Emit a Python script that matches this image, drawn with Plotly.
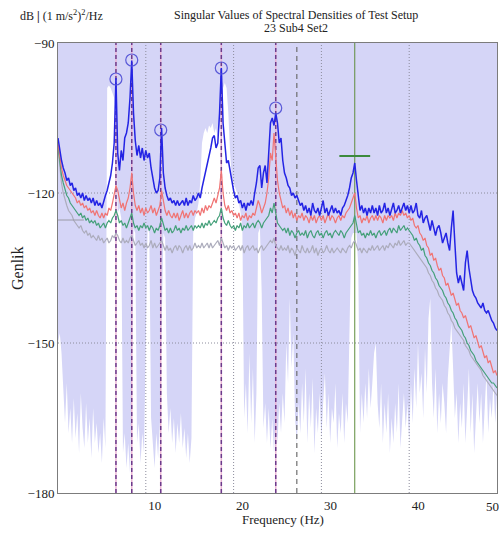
import plotly.graph_objects as go

# ---------------- data ----------------
freq = [round(0.2 * i, 1) for i in range(251)]  # Hz, 0.2 Hz grid

sv1_blue = [
    -109, -111.5, -113.5, -115, -116, -117.5, -117, -118.5, -118, -119.5,
    -119, -120.5, -120, -121, -120, -121.5, -120.5, -121.5, -121, -122,
    -121, -122.5, -121.5, -122.5, -122, -123, -121.5, -120.5, -119.5, -118,
    -116.5, -114, -110, -97, -112, -115.5, -111.5, -113.5, -109, -108,
    -106, -101, -93.5, -104, -109.5, -112.5, -110.5, -113, -111, -113.5,
    -111.5, -113, -112, -115, -117.5, -119, -120, -119.5, -117, -107,
    -116, -119, -120.5, -121.5, -121, -122, -121.5, -122.5, -121.5, -122.5,
    -122, -121.5, -122.5, -121, -122.5, -121.5, -122, -120.5, -121.5, -121,
    -120, -121, -119, -117.5, -116, -114, -113, -111, -109, -108.5,
    -111, -110, -104, -95, -106, -111, -114, -113.5, -116, -117.5,
    -119.5, -121, -120.5, -122, -121.5, -123, -122, -123.5, -122, -122.5,
    -121.5, -122.5, -120, -118, -115, -114.5, -119, -116, -114.5, -118,
    -112, -106, -105, -106.5, -104, -106, -110, -109, -113.5, -116,
    -117, -118.5, -119, -120.5, -120, -121, -120.5, -121.5, -122.5, -122,
    -123.5, -122.5, -124, -123, -124.5, -122, -123.5, -124, -123, -124.5,
    -123, -121.5, -124, -123, -124.5, -123.5, -122.5, -124, -123, -124,
    -123.5, -124.5, -123, -122.5, -121.5, -120.5, -119, -117, -116, -114,
    -117.5, -121, -123.5, -122.5, -124, -123, -124.5, -123, -124, -122.5,
    -124, -123, -124.5, -122.5, -124, -123.5, -122, -124, -123, -124.5,
    -123, -122, -124, -123.5, -122.5, -124, -123, -122, -123.5, -122.5,
    -124, -122.5, -124, -123.5, -122, -124.5, -125, -123.5, -126, -125,
    -124.5, -126, -127.5, -125.5, -127, -128.5, -127, -126.5, -128, -130,
    -129, -128, -130, -131.5, -127, -123.5, -130, -136, -138, -136.5,
    -138, -139.5, -134, -131.5, -135, -137.5, -139.5, -140.5, -141, -142,
    -142.5, -143, -142, -143.5, -144, -143.5, -144.5, -145.5, -146, -147,
    -147.5,
]

sv2_red = [
    -110, -113, -115, -116.5, -117.5, -118.5, -119, -119.5, -120, -120.5,
    -121, -122, -121.5, -122.5, -122, -123, -122.5, -123.5, -123, -124,
    -123.5, -124.5, -123.5, -124.5, -125, -124, -125, -124, -124.5, -123,
    -123.5, -122, -120.5, -118.5, -119.5, -121.5, -123, -122, -123.5, -122,
    -121, -119, -116, -120, -122.5, -123.5, -122.5, -124, -123, -124.5,
    -123, -124, -123.5, -122.5, -124, -123, -124.5, -123.5, -122.5, -119.5,
    -122, -123.5, -124.5, -123.5, -124.5, -125, -124, -125, -124, -125.5,
    -124.5, -123.5, -125, -124, -125, -124, -123.5, -124.5, -123.5, -124,
    -123.5, -124.5, -123, -124, -122.5, -123.5, -122.5, -123, -122, -121,
    -122, -120.5, -119, -115.5, -120, -122.5, -123.5, -122.5, -124, -123.5,
    -124.5, -124, -125, -124, -125.5, -124.5, -125, -124, -125.5, -124.5,
    -125, -124, -124.5, -123, -121.5, -122.5, -124, -123, -122, -120,
    -117, -112, -113.5, -108, -114, -117.5, -120, -121.5, -123, -122.5,
    -124, -123, -124.5, -123.5, -125, -124, -125.5, -124.5, -125, -124,
    -125.5, -124.5, -125, -126, -124.5, -125.5, -124.5, -126, -125, -124.5,
    -125.5, -124.5, -126, -125, -124, -125.5, -124.5, -125, -126, -125,
    -124.5, -125.5, -124.5, -125, -124, -123.5, -123, -122, -121, -120,
    -123, -125, -124.5, -126, -125, -125.5, -124.5, -126, -125, -124.5,
    -125.5, -124.5, -125.5, -124.5, -125, -126, -124.5, -125.5, -124.5, -125,
    -124.5, -125.5, -124, -125, -124, -124.5, -123.5, -124.5, -124, -125,
    -124.5, -125.5, -125, -126.5, -127, -126.5, -128, -128.5, -129.5, -129,
    -130.5, -131, -132.5, -132, -133.5, -133, -134.5, -135.5, -135, -136.5,
    -137, -138.5, -138, -139.5, -140.5, -140, -141.5, -142.5, -142, -143.5,
    -144, -145, -144.5, -146, -147, -146.5, -148, -149, -148.5, -150,
    -151, -150.5, -152, -153, -152.5, -154, -153.5, -155, -156, -155.5,
    -156.5,
]

sv3_green = [
    -110.5, -114, -116.5, -118, -119.5, -120.5, -121, -122, -122.5, -123,
    -123.5, -124, -124.5, -124, -125, -124.5, -125.5, -125, -126, -125.5,
    -126, -125.5, -126.5, -126, -127, -126.5, -126, -127, -126, -125.5,
    -126, -125, -124.5, -123.5, -124.5, -126, -125.5, -126.5, -126, -127,
    -126, -125, -124, -126, -127, -126.5, -127.5, -126.5, -127, -126,
    -127, -126.5, -127.5, -126.5, -127, -128, -127, -127.5, -126.5, -125,
    -126.5, -127.5, -127, -128, -127, -128, -127.5, -126.5, -127.5, -127,
    -128, -127, -127.5, -126.5, -127.5, -127, -126.5, -127.5, -126.5, -127,
    -126.5, -127, -126, -127, -126, -126.5, -125.5, -126.5, -126, -125.5,
    -126, -125, -124.5, -123, -125, -126, -126.5, -125.5, -126.5, -127,
    -126.5, -127.5, -126.5, -127, -126, -127.5, -126.5, -127, -126, -127,
    -126.5, -126, -127, -126, -125.5, -126, -127, -126, -125.5, -125,
    -124.5, -123, -124, -122, -124.5, -126, -126.5, -127, -127.5, -127,
    -128, -127, -128.5, -127.5, -128, -129, -128, -127.5, -128.5, -128,
    -128.5, -127.5, -129, -128, -127.5, -128.5, -129, -128, -127.5, -128.5,
    -128, -129, -128, -127.5, -128.5, -128, -129, -128, -127.5, -128,
    -128.5, -127.5, -128, -129, -128, -127.5, -127, -126.5, -126, -124.5,
    -126.5, -128, -127.5, -128.5, -128, -129, -128, -128.5, -127.5, -128.5,
    -128, -129, -128, -127.5, -128.5, -128, -127.5, -128.5, -127.5, -127,
    -128, -127, -127.5, -128, -126.5, -127.5, -127, -126.5, -127.5, -127,
    -127.5, -128, -128.5, -129.5, -129, -130, -130.5, -131.5, -131, -132.5,
    -133, -134, -134.5, -135.5, -136, -137, -137.5, -138.5, -139, -139.5,
    -140.5, -141, -142, -142.5, -143.5, -144, -145, -145.5, -146.5, -147,
    -147.5, -148.5, -149, -150, -150.5, -151.5, -152, -152.5, -153.5, -154,
    -154.5, -155, -155.5, -156, -156.5, -157, -157.5, -158, -158, -158.5,
    -159,
]

sv4_gray = [
    -111, -115, -118, -120, -121.5, -122.5, -123.5, -124, -124.5, -125.5,
    -126, -126.5, -127, -126.5, -127.5, -128, -127.5, -128.5, -128, -129,
    -128.5, -129, -129.5, -128.5, -129.5, -129, -130, -129.5, -129, -130,
    -129.5, -128.5, -129, -128, -128.5, -129.5, -130, -129, -130, -129.5,
    -130, -129, -128.5, -129.5, -130.5, -130, -129.5, -130.5, -130, -131,
    -130, -131, -130.5, -129.5, -131, -130, -131, -130.5, -130, -129.5,
    -130.5, -131.5, -130.5, -131.5, -131, -132, -131, -130.5, -131.5, -130.5,
    -131, -132, -131, -130.5, -131.5, -130.5, -131.5, -131, -130, -131,
    -130.5, -131, -130, -131, -130.5, -130, -131, -130, -131, -130.5,
    -130, -129.5, -130.5, -129, -130, -131, -130.5, -131.5, -130.5, -131,
    -130.5, -131.5, -131, -130.5, -131.5, -130.5, -132, -131, -130.5, -131.5,
    -131, -130.5, -131.5, -131, -132, -131, -130.5, -131.5, -131, -130.5,
    -130, -129.5, -130, -129, -130.5, -131, -131.5, -130.5, -131.5, -131,
    -131.5, -130.5, -132, -131, -131.5, -132.5, -131, -131.5, -132, -130.5,
    -131.5, -132, -131, -132, -131.5, -130.5, -132, -131, -132.5, -131.5,
    -131, -132, -131.5, -130.5, -131.5, -132, -131, -132, -131.5, -131,
    -131.5, -132, -131, -131.5, -132, -131, -130.5, -131, -130, -129.5,
    -130.5, -131.5, -131, -132, -131, -131.5, -132, -131, -131.5, -130.5,
    -131.5, -131, -130.5, -131.5, -131, -130.5, -131.5, -130.5, -131, -130,
    -130.5, -131, -130, -130.5, -129.5, -130.5, -130, -129.5, -130.5, -130,
    -130, -130.5, -131, -131.5, -132, -132.5, -133, -133.5, -134, -134.5,
    -135, -136, -136.5, -137.5, -138, -139, -139.5, -140.5, -141, -141.5,
    -142.5, -143, -144, -144.5, -145.5, -146, -147, -147.5, -148, -148.5,
    -149, -149.5, -150.5, -151, -151.5, -152.5, -153, -153.5, -154, -154.5,
    -155, -155.5, -156.5, -157, -157.5, -158, -158.5, -159, -159.5, -160,
    -160.5,
]

# upper edge (dB) of the white band rising from the bottom of the plot
white_top = [
    -150, -148, -152, -160, -166, -158, -168, -163, -170, -161,
    -169, -164, -172, -160, -167, -171, -162, -170, -165, -173,
    -163, -170, -166, -172, -168, -174, -165, -171, -99, -98.5,
    -99, -100, -101, -104, -124, -123, -125, -172, -168, -175,
    -170, -176, -160, -127, -128, -170, -166, -174, -168, -172,
    -150, -127, -128, -165, -170, -175, -168, -173, -166, -150,
    -128, -129, -160, -168, -163, -170, -165, -172, -166, -170,
    -164, -171, -167, -173, -168, -174, -169, -128, -125, -124,
    -122, -118, -110, -108, -107, -108, -106.5, -107, -106, -108,
    -107, -109, -106, -104, -99, -98, -99, -104, -112, -117,
    -118, -119, -120, -122, -124, -127, -165, -158, -168, -152,
    -166, -155, -170, -160, -128, -127, -140, -167, -162, -170,
    -163, -171, -165, -172, -164, -170, -162, -168, -160, -166,
    -150, -158, -141, -155, -148, -165, -170, -162, -168, -158,
    -166, -155, -170, -160, -167, -157, -172, -163, -168, -160,
    -169, -162, -156, -167, -160, -170, -163, -166, -158, -171,
    -164, -168, -160, -170, -162, -166, -150, -129, -128, -128,
    -128, -135, -168, -160, -166, -158, -165, -155, -163, -158,
    -152, -150, -162, -167, -158, -170, -162, -168, -160, -172,
    -165, -170, -162, -168, -158, -171, -164, -160, -167, -162,
    -170, -158, -166, -155, -163, -150, -160, -156, -165, -151,
    -160, -145, -141, -158, -165, -155, -168, -160, -166, -158,
    -162, -168, -157, -150, -146, -155, -165, -160, -170, -162,
    -167, -158, -170, -163, -155, -168, -160, -172, -164, -158,
    -166, -160, -170, -162, -156, -168, -161, -165, -158, -166,
    -160,
]

peak_freqs = [6.6, 8.4, 11.7, 18.6, 24.8]          # picked peaks
peak_db = [-97.2, -93.4, -107.4, -95.0, -103.0]      # circle centres
ref_line_freq = [27.2]                               # gray dashed marker
green_freq = [33.8]                                  # green marker line
green_mark_db = [-112.6]
cursor_f = [1.35]
cursor_db = [-125.4]
grid_x = [10, 20, 30, 40]
grid_y = [-120, -150]
x_ticks = [10, 20, 30, 40]
y_ticks = [-180, -150, -120, -90]
X_MIN, X_MAX = 0, 50
Y_MIN, Y_MAX = -180, -90

for s in (sv1_blue, sv2_red, sv3_green, sv4_gray, white_top):
    assert len(s) == len(freq)

FONT = "Liberation Serif"
LAVENDER = "#d5d5f7"


def vlines(xs):
    X, Y = [], []
    for v in xs:
        X += [v, v, None]
        Y += [Y_MIN, Y_MAX, None]
    return X, Y


def hlines(ys):
    X, Y = [], []
    for v in ys:
        X += [X_MIN, X_MAX, None]
        Y += [v, v, None]
    return X, Y


fig = go.Figure()

# white band from the bottom
fig.add_trace(go.Scatter(x=freq, y=[Y_MIN] * len(freq), mode="lines",
                         line=dict(width=0), hoverinfo="skip", showlegend=False))
fig.add_trace(go.Scatter(x=freq, y=white_top, mode="lines", fill="tonexty",
                         fillcolor="white", line=dict(width=0, color="white"),
                         hoverinfo="skip", showlegend=False))

# dotted grid
gx, gy = vlines(grid_x)
fig.add_trace(go.Scatter(x=gx, y=gy, mode="lines",
                         line=dict(color="#8c8c9c", width=1, dash="1px,2px"),
                         hoverinfo="skip", showlegend=False))
hx, hy = hlines(grid_y)
fig.add_trace(go.Scatter(x=hx, y=hy, mode="lines",
                         line=dict(color="#8c8c9c", width=1, dash="1px,2px"),
                         hoverinfo="skip", showlegend=False))

# picked-peak lines (pink base + purple dashes)
px_, py_ = vlines(peak_freqs)
fig.add_trace(go.Scatter(x=px_, y=py_, mode="lines",
                         line=dict(color="#eab4d4", width=1.5),
                         hoverinfo="skip", showlegend=False))
fig.add_trace(go.Scatter(x=px_, y=py_, mode="lines",
                         line=dict(color="#6c3c8c", width=1.5, dash="4px,3px"),
                         hoverinfo="skip", showlegend=False))
rx, ry = vlines(ref_line_freq)
fig.add_trace(go.Scatter(x=rx, y=ry, mode="lines",
                         line=dict(color="#6e6e6e", width=1.2, dash="5px,4px"),
                         hoverinfo="skip", showlegend=False))
gx2, gy2 = vlines(green_freq)
fig.add_trace(go.Scatter(x=gx2, y=gy2, mode="lines",
                         line=dict(color="#5e8c3c", width=1),
                         hoverinfo="skip", showlegend=False))

# singular value curves
fig.add_trace(go.Scatter(x=freq, y=sv4_gray, mode="lines",
                         line=dict(color="#acacbc", width=1.2), showlegend=False))
fig.add_trace(go.Scatter(x=freq, y=sv3_green, mode="lines",
                         line=dict(color="#45a07a", width=1.2), showlegend=False))
fig.add_trace(go.Scatter(x=freq, y=sv2_red, mode="lines",
                         line=dict(color="#f07474", width=1.2), showlegend=False))
fig.add_trace(go.Scatter(x=freq, y=sv1_blue, mode="lines",
                         line=dict(color="#2424e4", width=1.5), showlegend=False))

# peak circles
fig.add_trace(go.Scatter(x=peak_freqs, y=peak_db, mode="markers",
                         marker=dict(symbol="circle-open", size=12,
                                     color="#5a5ad8", line=dict(width=1.2)),
                         showlegend=False))
# green horizontal marker
fig.add_trace(go.Scatter(x=green_freq, y=green_mark_db, mode="markers",
                         marker=dict(symbol="line-ew", size=22, color="#3c8a3c",
                                     line=dict(width=2, color="#3c8a3c")),
                         showlegend=False))
# small cursor cross
fig.add_trace(go.Scatter(x=cursor_f, y=cursor_db, mode="markers",
                         marker=dict(symbol="line-ew", size=20, color="#9a9aa6",
                                     line=dict(width=1, color="#9a9aa6")),
                         showlegend=False))

fig.update_layout(
    width=499, height=533,
    margin=dict(l=58, r=2, t=43, b=40),
    paper_bgcolor="white", plot_bgcolor=LAVENDER,
    font=dict(family=FONT, size=13, color="#222222"),
    showlegend=False,
)
fig.update_xaxes(range=[X_MIN, X_MAX], tickvals=x_ticks,
                 ticklabelshift=9, showgrid=False, zeroline=False,
                 showline=True, linecolor="#7c7c7c", linewidth=1, mirror=True,
                 ticks="", tickfont=dict(size=13, family=FONT))
fig.update_yaxes(range=[Y_MIN, Y_MAX], tickvals=y_ticks, showgrid=False,
                 zeroline=False, showline=True, linecolor="#7c7c7c",
                 linewidth=1, mirror=True, ticks="",
                 tickfont=dict(size=13, family=FONT))


def px2paper(px, py):
    return (px - 58) / 439.0, (493 - py) / 450.0


ann = []
x, y = px2paper(492, 506)
ann.append(dict(x=x, y=y, text="50", showarrow=False, xanchor="center",
                yanchor="middle", font=dict(size=13, family=FONT)))
x, y = px2paper(283, 519)
ann.append(dict(x=x, y=y, text="Frequency (Hz)", showarrow=False,
                xanchor="center", yanchor="middle", font=dict(size=13, family=FONT)))
x, y = px2paper(17, 268)
ann.append(dict(x=x, y=y, text="Genlik", showarrow=False, textangle=-90,
                xanchor="center", yanchor="middle", font=dict(size=16, family=FONT)))
x, y = px2paper(296, 15)
ann.append(dict(x=x, y=y, text="Singular Values of Spectral Densities of Test Setup",
                showarrow=False, xanchor="center", yanchor="middle",
                font=dict(size=12, family=FONT)))
x, y = px2paper(296, 28)
ann.append(dict(x=x, y=y, text="23 Sub4 Set2", showarrow=False,
                xanchor="center", yanchor="middle", font=dict(size=12, family=FONT)))
x, y = px2paper(18, 15)
ann.append(dict(x=x, y=y,
                text="dB <b>|</b> (1 m/s<sup>2</sup>)<sup>2</sup>/Hz",
                showarrow=False, xanchor="left", yanchor="middle",
                font=dict(size=12, family=FONT)))
for a in ann:
    a.update(xref="paper", yref="paper")
fig.update_layout(annotations=ann)

fig.write_html(
    "out.html",
    config={"displayModeBar": False},
    post_script="document.body.style.margin='0';document.body.style.padding='0';",
)
